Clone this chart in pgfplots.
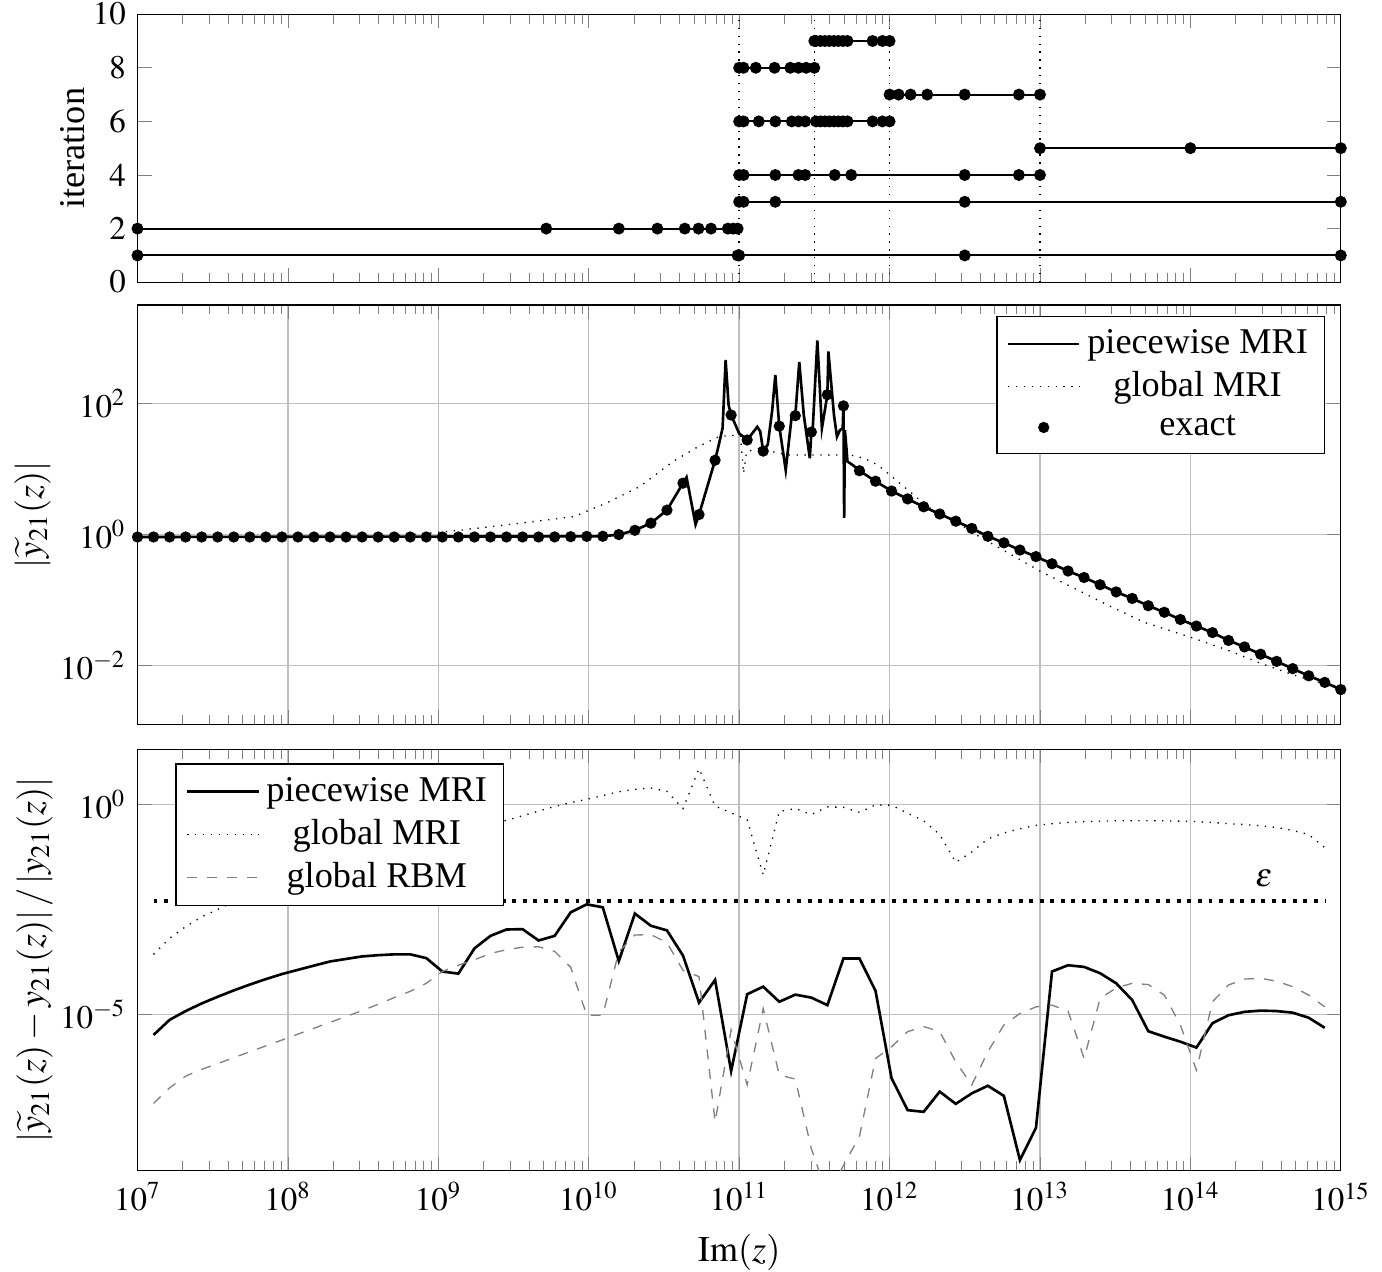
\documentclass[border=0pt]{standalone}
\usepackage{mathptmx}
\usepackage{fontspec}
\setmainfont{Liberation Serif}
\usepackage{pgfplots}
\usepackage{pgfplotstable}
\pgfplotsset{compat=1.18}
\pgfplotsset{every axis/.append style={scale only axis, width=365pt, xmin=1e7, xmax=1e15,
    tick style={gray}, legend cell align=center,
    label style={font=\fontsize{11}{13}\selectfont},
    legend style={font=\fontsize{11}{13}\selectfont, draw=black},
    legend image code/.code={\draw[mark repeat=2,mark phase=2,#1] plot coordinates {(0cm,0cm) (0.38cm,0cm) (0.76cm,0cm)};}}}

\pgfplotstableread{
x y
1e7 0.91
1.27838e7 0.91
1.63430e7 0.91
2.08930e7 0.91
2.67097e7 0.91
3.41455e7 0.91
4.36516e7 0.91
5.58042e7 0.91
7.13398e7 0.91
9.12011e7 0.91
1.16591e8 0.91
1.49049e8 0.91
1.90546e8 0.91
2.43594e8 0.91
3.11411e8 0.91
3.98107e8 0.91
5.08939e8 0.91
6.50625e8 0.91
8.31764e8 0.91
1.06333e9 0.91
1.35936e9 0.91
1.73780e9 0.91
2.22160e9 0.91
2.84010e9 0.91
3.63078e9 0.91
4.64159e9 0.91
5.93378e9 0.912
7.58578e9 0.92
9.69775e9 0.93
1.23974e10 0.933
1.58489e10 0.99
2.02612e10 1.15
2.59020e10 1.48
3.31131e10 2.34
4.23317e10 6.03
5.41170e10 2.0
6.91831e10 13.5
8.84434e10 66.1
1.13066e11 27.5
1.44544e11 18.6
1.84785e11 44.7
2.36229e11 64.6
3.01995e11 36.3
3.86070e11 135
4.93552e11 91.2
6.30957e11 9.33
8.06615e11 6.46
1.03118e12 4.57
1.31826e12 3.47
1.68526e12 2.63
2.15443e12 2.04
2.75423e12 1.585
3.52101e12 1.23
4.50125e12 0.933
5.75440e12 0.741
7.35642e12 0.575
9.40440e12 0.457
1.20226e13 0.355
1.53695e13 0.275
1.96486e13 0.219
2.51189e13 0.170
3.21120e13 0.132
4.10518e13 0.105
5.24807e13 0.0813
6.70920e13 0.0646
8.57696e13 0.0501
1.09648e14 0.0398
1.40174e14 0.0316
1.79198e14 0.0240
2.29087e14 0.0191
2.92864e14 0.0148
3.74397e14 0.0115
4.78630e14 0.00891
6.11873e14 0.00692
7.82224e14 0.00550
1e15 0.00427
}\exacttable

\pgfplotstableread{
x pw gm rb
1.27838e7 3.24e-6 2.69e-4 7.59e-8
1.63430e7 7.41e-6 6.46e-4 1.78e-7
2.08930e7 1.20e-5 1.23e-3 3.39e-7
2.67097e7 1.82e-5 2.09e-3 4.90e-7
3.41455e7 2.63e-5 3.16e-3 6.76e-7
4.36516e7 3.72e-5 4.79e-3 9.33e-7
5.58042e7 5.13e-5 7.08e-3 1.29e-6
7.13398e7 6.92e-5 1.0e-2 1.78e-6
9.12011e7 9.12e-5 1.38e-2 2.45e-6
1.16591e8 1.15e-4 1.91e-2 3.39e-6
1.49049e8 1.45e-4 2.51e-2 4.68e-6
1.90546e8 1.82e-4 3.31e-2 6.46e-6
2.43594e8 2.09e-4 4.27e-2 8.91e-6
3.11411e8 2.40e-4 5.50e-2 1.23e-5
3.98107e8 2.57e-4 7.08e-2 1.74e-5
5.08939e8 2.69e-4 8.91e-2 2.51e-5
6.50625e8 2.69e-4 0.112 3.55e-5
8.31764e8 2.19e-4 0.141 5.50e-5
1.06333e9 1.05e-4 0.174 1.05e-4
1.35936e9 9.33e-5 0.214 1.48e-4
1.73780e9 3.72e-4 0.257 2.0e-4
2.22160e9 7.41e-4 0.331 2.82e-4
2.84010e9 1.05e-3 0.417 3.47e-4
3.63078e9 1.07e-3 0.537 3.98e-4
4.64159e9 5.75e-4 0.692 4.07e-4
5.93378e9 7.41e-4 0.891 3.16e-4
7.58578e9 2.69e-3 1.10 1.32e-4
9.69775e9 4.17e-3 1.32 9.55e-6
1.23974e10 3.55e-3 1.62 9.55e-6
1.58489e10 1.86e-4 2.0 3.09e-4
2.02612e10 2.51e-3 2.29 7.76e-4
2.59020e10 1.29e-3 2.45 7.94e-4
3.31131e10 1.0e-3 2.04 5.13e-4
4.23317e10 2.51e-4 0.794 1.12e-4
5.41170e10 1.91e-5 7.08 7.94e-5
6.91831e10 6.61e-5 0.912 2.75e-8
8.84434e10 4.47e-7 0.631 4.27e-6
1.13066e11 3.02e-5 0.427 2.09e-7
1.44544e11 4.57e-5 0.0209 1.38e-5
1.84785e11 2.0e-5 0.676 3.63e-7
2.36229e11 2.95e-5 0.794 2.88e-7
3.01995e11 2.51e-5 0.575 6.31e-9
3.86070e11 1.66e-5 0.871 5.0e-10
4.93552e11 2.14e-4 0.851 2.51e-9
6.30957e11 2.14e-4 0.646 1.26e-8
8.06615e11 3.63e-5 0.977 8.91e-7
1.03118e12 3.02e-7 0.955 1.70e-6
1.31826e12 5.25e-8 0.617 3.89e-6
1.68526e12 4.79e-8 0.407 5.13e-6
2.15443e12 1.45e-7 0.191 3.89e-6
2.75423e12 7.41e-8 0.0417 7.41e-7
3.52101e12 1.32e-7 0.0741 2.09e-7
4.50125e12 2.0e-7 0.151 1.29e-6
5.75440e12 1.15e-7 0.209 5.62e-6
7.35642e12 3.39e-9 0.263 1.05e-5
9.40440e12 2.0e-8 0.316 1.51e-5
1.20226e13 1.05e-4 0.347 1.66e-5
1.53695e13 1.48e-4 0.372 1.20e-5
1.96486e13 1.35e-4 0.389 8.91e-7
2.51189e13 9.55e-5 0.398 2.40e-5
3.21120e13 5.50e-5 0.407 4.27e-5
4.10518e13 2.19e-5 0.407 5.50e-5
5.24807e13 3.98e-6 0.407 5.13e-5
6.70920e13 2.95e-6 0.407 2.88e-5
8.57696e13 2.24e-6 0.398 5.62e-6
1.09648e14 1.62e-6 0.389 4.68e-7
1.40174e14 6.17e-6 0.372 2.0e-5
1.79198e14 9.55e-6 0.347 5.01e-5
2.29087e14 1.15e-5 0.331 6.92e-5
2.92864e14 1.23e-5 0.309 7.24e-5
3.74397e14 1.20e-5 0.282 6.17e-5
4.78630e14 1.10e-5 0.240 4.57e-5
6.11873e14 8.32e-6 0.191 2.88e-5
7.82224e14 4.79e-6 0.0933 1.51e-5
}\errtable

\begin{document}
\begin{tikzpicture}
% ---------- top: iterations ----------
\begin{axis}[xmode=log, at={(0,0)}, anchor=north west, height=81.3pt,
  ymin=0, ymax=10, ytick={0,2,4,6,8,10}, xticklabels={}, ylabel={iteration},
  ylabel style={yshift=-4.3pt}]
\addplot[black, semithick, mark=*, mark size=1.5pt] coordinates {(1e7,1) (9.77e10,1) (1e11,1) (3.16e12,1) (1e15,1)};
\addplot[black, semithick, mark=*, mark size=1.5pt] coordinates {(1e7,2) (5.22e9,2) (1.585e10,2) (2.86e10,2) (4.35e10,2) (5.37e10,2) (6.5e10,2) (8.41e10,2) (9.12e10,2) (9.77e10,2)};
\addplot[black, semithick, mark=*, mark size=1.5pt] coordinates {(1e11,3) (1.07e11,3) (1.74e11,3) (3.16e12,3) (1e15,3)};
\addplot[black, semithick, mark=*, mark size=1.5pt] coordinates {(1e11,4) (1.07e11,4) (1.74e11,4) (2.48e11,4) (2.75e11,4) (4.32e11,4) (5.56e11,4) (3.16e12,4) (7.24e12,4) (1e13,4)};
\addplot[black, semithick, mark=*, mark size=1.5pt] coordinates {(1e13,5) (1e14,5) (1e15,5)};
\addplot[black, semithick, mark=*, mark size=1.5pt] coordinates {(1e11,6) (1.07e11,6) (1.35e11,6) (1.74e11,6) (2.24e11,6) (2.48e11,6) (2.75e11,6) (3.24e11,6) (3.47e11,6) (3.72e11,6) (3.98e11,6) (4.27e11,6) (4.57e11,6) (4.9e11,6) (5.25e11,6) (7.71e11,6) (8.97e11,6) (1e12,6)};
\addplot[black, semithick, mark=*, mark size=1.5pt] coordinates {(1e12,7) (1.15e12,7) (1.38e12,7) (1.78e12,7) (3.16e12,7) (7.24e12,7) (1e13,7)};
\addplot[black, semithick, mark=*, mark size=1.5pt] coordinates {(1e11,8) (1.07e11,8) (1.29e11,8) (1.72e11,8) (2.19e11,8) (2.48e11,8) (2.79e11,8) (3.16e11,8)};
\addplot[black, semithick, mark=*, mark size=1.5pt] coordinates {(3.16e11,9) (3.24e11,9) (3.47e11,9) (3.72e11,9) (3.98e11,9) (4.27e11,9) (4.57e11,9) (4.9e11,9) (5.25e11,9) (7.71e11,9) (8.97e11,9) (1e12,9)};
\addplot[black, thin, dotted] coordinates {(1e11,0) (1e11,10)};
\addplot[black, thin, dotted] coordinates {(3.162e11,0) (3.162e11,10)};
\addplot[black, thin, dotted] coordinates {(1e12,0) (1e12,10)};
\addplot[black, thin, dotted] coordinates {(1e13,0) (1e13,10)};
\end{axis}
% ---------- middle: transfer function ----------
\begin{axis}[xmode=log, ymode=log, at={(0,-88.2pt)}, anchor=north west, height=127.2pt,
  ymin=1.26e-3, ymax=3162, ytick={1e-2,1,1e2}, yminorticks=false,
  xticklabels={}, xmajorgrids, ymajorgrids,
  ylabel={$|\widetilde{y}_{21}(z)|$}, ylabel style={yshift=-4pt},
  legend style={at={(1,1)}, anchor=north east, xshift=-4.8pt, yshift=-3.2pt}]
\addplot[black, thick] coordinates {(1e7,0.91) (9.69775e9,0.93) (1.23974e10,0.933) (1.58489e10,0.99) (2.02612e10,1.15) (2.59020e10,1.48) (3.31131e10,2.34) (4.23317e10,6.03) (4.47e10,7.41) (5.13e10,1.41) (5.41170e10,2.0) (6.91831e10,13.5) (7.33e10,23.4) (7.76e10,41.7) (8.13e10,457) (8.51e10,93.3) (8.84434e10,66.1) (1.0e11,34.7) (1.13066e11,27.5) (1.32e11,43.7) (1.38e11,37.2) (1.44544e11,18.6) (1.55e11,23.4) (1.66e11,79.4) (1.74e11,269) (1.84785e11,44.7) (2.04e11,9.55) (2.24e11,66.1) (2.36229e11,64.6) (2.51e11,427) (2.69e11,66.1) (2.95e11,14.5) (3.01995e11,36.3) (3.09e11,43.7) (3.31e11,912) (3.55e11,41.7) (3.86070e11,135) (3.92e11,617) (4.27e11,66.1) (4.47e11,30.9) (4.68e11,38.9) (4.88e11,41.7) (4.93552e11,91.2) (4.99e11,1.78) (5.05e11,38.9) (5.25e11,12.9) (5.75e11,11.2) (6.30957e11,9.33) (8.06615e11,6.46) (1.03118e12,4.57) (1.31826e12,3.47) (1.68526e12,2.63) (2.15443e12,2.04) (2.75423e12,1.585) (3.52101e12,1.23) (4.50125e12,0.933) (5.75440e12,0.741) (7.35642e12,0.575) (9.40440e12,0.457) (1.20226e13,0.355) (1.53695e13,0.275) (1.96486e13,0.219) (2.51189e13,0.170) (3.21120e13,0.132) (4.10518e13,0.105) (5.24807e13,0.0813) (6.70920e13,0.0646) (8.57696e13,0.0501) (1.09648e14,0.0398) (1.40174e14,0.0316) (1.79198e14,0.0240) (2.29087e14,0.0191) (2.92864e14,0.0148) (3.74397e14,0.0115) (4.78630e14,0.00891) (6.11873e14,0.00692) (7.82224e14,0.00550) (1e15,0.00427)};
\addlegendentry{piecewise MRI}
\addplot[black, thin, dotted] coordinates {(1e7,0.912) (3.16e8,0.933) (6.31e8,0.977) (1.38e9,1.15) (3.8e9,1.51) (7.94e9,1.86) (1.32e10,3.02) (2.19e10,5.37) (3.63e10,12.9) (5.37e10,21.9) (7.33e10,30.9) (8.91e10,32.4) (1.02e11,31.6) (1.07e11,8.51) (1.12e11,18.2) (1.35e11,20.4) (1.66e11,18.2) (2.14e11,16.2) (3.16e11,16.2) (5.5e11,16.2) (6.76e11,14.5) (8.32e11,11.5) (1e12,8.13) (1.35e12,4.57) (1.82e12,2.57) (2.63e12,1.70) (3.72e12,1.0) (6.31e12,0.501) (1e13,0.275) (1.74e13,0.145) (2.88e13,0.0813) (4.9e13,0.0457) (1e14,0.0269) (1.78e14,0.017) (2.95e14,0.0107) (4.9e14,0.00708) (7.76e14,0.00525) (1e15,0.00468)};
\addlegendentry{global MRI}
\addplot[black, only marks, mark=*, mark size=1.5pt] table[x=x, y=y] {\exacttable};
\addlegendentry{exact}
\end{axis}
% ---------- bottom: relative error ----------
\begin{axis}[xmode=log, ymode=log, at={(0,-223pt)}, anchor=north west, height=127.8pt,
  ymin=1.9e-9, ymax=20.4, ytick={1e-5,1}, yminorticks=false,
  xmajorgrids, ymajorgrids, xlabel={$\mathrm{Im}(z)$},
  ylabel={$|\widetilde{y}_{21}(z)-y_{21}(z)|\,/\,|y_{21}(z)|$}, ylabel style={yshift=-4.6pt},
  legend style={at={(0,1)}, anchor=north west, xshift=11.5pt, yshift=-4.2pt}]
\addplot[black, thick] table[x=x, y=pw] {\errtable};
\addlegendentry{piecewise MRI}
\addplot[black, thin, dotted] table[x=x, y=gm] {\errtable};
\addlegendentry{global MRI}
\addplot[gray, dashed] table[x=x, y=rb] {\errtable};
\addlegendentry{global RBM}
\addplot[black, line width=1.2pt, dotted, forget plot] coordinates {(1.27838e7,5e-3) (7.82224e14,5e-3)};
\node at (axis cs:3.09e14,0.0174) {$\varepsilon$};
\end{axis}
\pgfresetboundingbox
\path[use as bounding box] (-41.7pt,4.3pt) rectangle (377.5pt,-381.5pt);
\end{tikzpicture}
\end{document}
